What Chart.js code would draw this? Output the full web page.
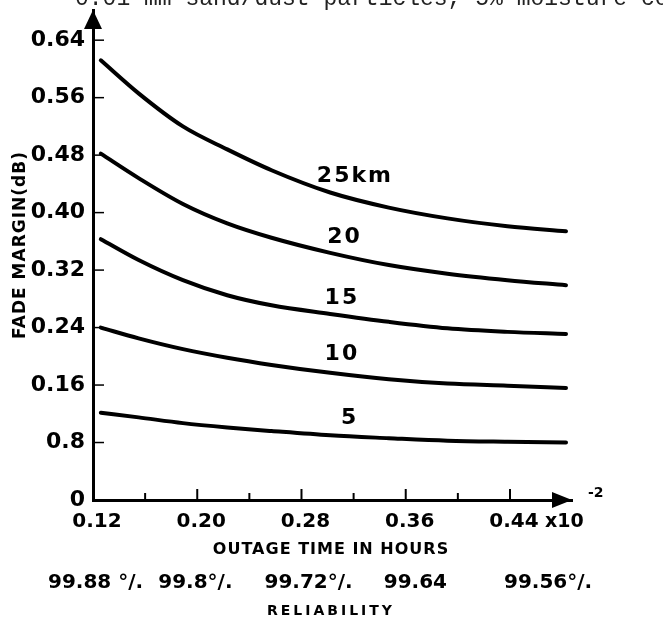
<!DOCTYPE html>
<html>
<head>
<meta charset="utf-8">
<style>
  html, body { margin: 0; padding: 0; background: #fff; }
  canvas { display: block; }
</style>
<script src="https://cdn.jsdelivr.net/npm/chart.js@4.4.1/dist/chart.umd.min.js"></script>
</head>
<body>
<canvas id="chart" width="663" height="618"></canvas>
<script>
// Outage time (x10^-2 hours) at which the fade margin curves are sampled
const outageTime = [0.126, 0.155, 0.189, 0.223, 0.257, 0.302, 0.347, 0.392, 0.438, 0.483];

// Fade margin (dB) for each path length
const fade25km = [0.612, 0.566, 0.520, 0.488, 0.459, 0.428, 0.407, 0.392, 0.381, 0.374];
const fade20km = [0.482, 0.448, 0.412, 0.385, 0.365, 0.344, 0.327, 0.315, 0.306, 0.299];
const fade15km = [0.363, 0.334, 0.306, 0.285, 0.271, 0.259, 0.248, 0.239, 0.234, 0.231];
const fade10km = [0.240, 0.225, 0.210, 0.198, 0.188, 0.177, 0.168, 0.162, 0.159, 0.156];
const fade5km  = [0.1215, 0.115, 0.107, 0.101, 0.096, 0.090, 0.086, 0.0825, 0.081, 0.080];

const curveNames = ['25km', '20', '15', '10', '5'];
// where each curve name sits, in data units (outage time, fade margin)
const nameX = [0.321, 0.313, 0.311, 0.311, 0.317];
const nameY = [0.451, 0.366, 0.281, 0.203, 0.114];

const xTickValues = [0.12, 0.16, 0.20, 0.24, 0.28, 0.32, 0.36, 0.40, 0.44];
const xTickLabels = ['0.12', '', '0.20', '', '0.28', '', '0.36', '', '0.44'];
const yTickValues = [0, 0.08, 0.16, 0.24, 0.32, 0.40, 0.48, 0.56, 0.64];
const yTickLabels = ['0', '0.8', '0.16', '0.24', '0.32', '0.40', '0.48', '0.56', '0.64'];

// reliability printed under the major outage-time ticks
const reliabilityAt = [0.12, 0.20, 0.28, 0.36, 0.44];
const reliabilityLabels = ['99.88 °/.', '99.8°/.', '99.72°/.', '99.64', '99.56°/.'];

const BOLD = '"DejaVu Sans", sans-serif';
const INK = '#000';

function series(values) {
  return values.map((v, i) => ({ x: outageTime[i], y: v }));
}

const allSeries = [fade25km, fade20km, fade15km, fade10km, fade5km];

// axis arrowheads, inner tick marks and the printed annotations
const annotate = {
  id: 'annotate',
  afterDraw(chart) {
    const { ctx, chartArea: a, scales: { x, y } } = chart;
    ctx.save();
    ctx.fillStyle = INK;
    ctx.strokeStyle = INK;

    // caption line running off the top edge
    ctx.font = '23px "Liberation Mono", monospace';
    ctx.textBaseline = 'alphabetic';
    ctx.textAlign = 'left';
    ctx.fillStyle = '#222';
    ctx.fillText('0.01 mm sand/dust particles, 5% moisture content', 75, 5);
    ctx.fillStyle = INK;

    // arrowheads at the ends of both axes
    ctx.beginPath();
    ctx.moveTo(a.left, a.top);
    ctx.lineTo(a.left - 9, a.top + 19);
    ctx.lineTo(a.left + 9, a.top + 19);
    ctx.closePath();
    ctx.fill();
    ctx.beginPath();
    ctx.moveTo(a.right, a.bottom);
    ctx.lineTo(a.right - 20, a.bottom - 8);
    ctx.lineTo(a.right - 20, a.bottom + 8);
    ctx.closePath();
    ctx.fill();

    // tick marks pointing into the plot
    ctx.lineWidth = 2;
    xTickValues.forEach((v, i) => {
      if (i === 0) return;
      const px = x.getPixelForValue(v);
      const len = xTickLabels[i] ? 11 : 7;
      ctx.beginPath();
      ctx.moveTo(px, a.bottom);
      ctx.lineTo(px, a.bottom - len);
      ctx.stroke();
    });
    ctx.lineWidth = 1.5;
    yTickValues.forEach((v, i) => {
      if (i === 0) return;
      const py = y.getPixelForValue(v);
      ctx.beginPath();
      ctx.moveTo(a.left, py);
      ctx.lineTo(a.left + 11, py);
      ctx.stroke();
    });

    // curve names
    ctx.font = 'bold 22px ' + BOLD;
    ctx.textAlign = 'center';
    ctx.textBaseline = 'middle';
    ctx.letterSpacing = '2px';
    curveNames.forEach((name, i) => {
      ctx.fillText(name, x.getPixelForValue(nameX[i]), y.getPixelForValue(nameY[i]));
    });

    // power of ten on the outage-time axis
    ctx.letterSpacing = '0px';
    ctx.textAlign = 'left';
    ctx.font = 'bold 19px ' + BOLD;
    ctx.fillText('x10', 545, 522);
    ctx.font = 'bold 14px ' + BOLD;
    ctx.fillText('-2', 588, 493);

    // axis titles
    ctx.letterSpacing = '1px';
    ctx.font = 'bold 16px ' + BOLD;
    ctx.textAlign = 'center';
    ctx.fillText('OUTAGE TIME IN HOURS', 331, 550);

    ctx.save();
    ctx.translate(21, 245);
    ctx.rotate(-Math.PI / 2);
    ctx.font = 'bold 17px ' + BOLD;
    ctx.fillText('FADE MARGIN(dB)', 0, 0);
    ctx.restore();

    // reliability row
    ctx.font = 'bold 20px ' + BOLD;
    ctx.letterSpacing = '0px';
    ctx.textAlign = 'left';
    const relShift = [-45, -39, -37, -22, -6];
    reliabilityAt.forEach((v, i) => {
      ctx.fillText(reliabilityLabels[i], x.getPixelForValue(v) + relShift[i], 583);
    });

    ctx.font = 'bold 14px ' + BOLD;
    ctx.letterSpacing = '3px';
    ctx.textAlign = 'center';
    ctx.fillText('RELIABILITY', 331, 611);
    ctx.restore();
  }
};

new Chart(document.getElementById('chart'), {
  type: 'scatter',
  data: {
    datasets: allSeries.map((vals, i) => ({
      label: curveNames[i],
      data: series(vals),
      showLine: true,
      borderColor: INK,
      borderWidth: 4,
      pointRadius: 0,
      cubicInterpolationMode: 'monotone',
      borderCapStyle: 'round',
      fill: false
    }))
  },
  options: {
    responsive: false,
    animation: false,
    devicePixelRatio: 1,
    layout: { padding: { top: 10, right: 91, left: 0, bottom: 0 } },
    plugins: { legend: { display: false }, tooltip: { enabled: false }, title: { display: false } },
    scales: {
      x: {
        type: 'linear',
        min: 0.12,
        max: 0.4876,
        afterBuildTicks: s => { s.ticks = xTickValues.map(v => ({ value: v })); },
        afterFit: s => { s.height = 118; s.paddingLeft = 0; s.paddingRight = 0; },
        grid: { display: false, drawTicks: false },
        border: { display: true, color: INK, width: 3 },
        ticks: {
          autoSkip: false,
          maxRotation: 0,
          padding: 10,
          labelOffset: 4,
          color: INK,
          font: { family: BOLD, size: 20, weight: 'bold' },
          callback: (v, i) => xTickLabels[i]
        }
      },
      y: {
        type: 'linear',
        min: 0,
        max: 0.682,
        afterBuildTicks: s => { s.ticks = yTickValues.map(v => ({ value: v })); },
        afterFit: s => { s.width = 93; s.paddingTop = 0; s.paddingBottom = 0; },
        grid: { display: false, drawTicks: false },
        border: { display: true, color: INK, width: 3 },
        ticks: {
          autoSkip: false,
          padding: 8,
          color: INK,
          font: { family: BOLD, size: 22, weight: 'bold' },
          callback: (v, i) => yTickLabels[i]
        }
      }
    }
  },
  plugins: [annotate]
});
</script>
</body>
</html>
